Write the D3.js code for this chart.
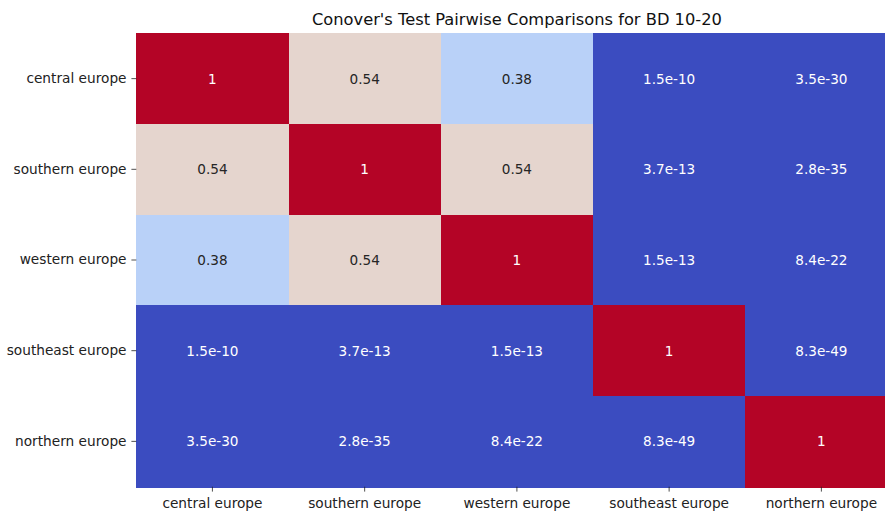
<!DOCTYPE html>
<html>
<head>
<meta charset="utf-8">
<script src="https://cdn.jsdelivr.net/npm/d3@7"></script>
<style>
  body { margin: 0; background: #fff; }
  svg { display: block; font-family: "DejaVu Sans", sans-serif; }
  .tick text { fill: #222; font-size: 13.7px; }
  .tick line { stroke: #222; stroke-width: 0.8; }
</style>
</head>
<body>
<svg width="885" height="511"></svg>
<script>
// groups (rows and columns are in the same order)
var groups = ["central europe", "southern europe", "western europe", "southeast europe", "northern europe"];

// p-values, numeric, one row per group
var pvalues = [
  [1, 0.54, 0.38, 1.5e-10, 3.5e-30],
  [0.54, 1, 0.54, 3.7e-13, 2.8e-35],
  [0.38, 0.54, 1, 1.5e-13, 8.4e-22],
  [1.5e-10, 3.7e-13, 1.5e-13, 1, 8.3e-49],
  [3.5e-30, 2.8e-35, 8.4e-22, 8.3e-49, 1]
];

// labels as printed in the cells
var labels = [
  ["1", "0.54", "0.38", "1.5e-10", "3.5e-30"],
  ["0.54", "1", "0.54", "3.7e-13", "2.8e-35"],
  ["0.38", "0.54", "1", "1.5e-13", "8.4e-22"],
  ["1.5e-10", "3.7e-13", "1.5e-13", "1", "8.3e-49"],
  ["3.5e-30", "2.8e-35", "8.4e-22", "8.3e-49", "1"]
];

var title = "Conover's Test Pairwise Comparisons for BD 10-20";

var svg = d3.select("svg"),
    margin = { left: 136.3, top: 33.3 },
    width = 761.2,
    height = 453.4;

var x = d3.scaleBand().domain(groups).range([0, width]),
    y = d3.scaleBand().domain(groups).range([0, height]);

// coolwarm approximation
var color = d3.scaleLinear()
    .domain([0, 0.125, 0.25, 0.375, 0.5, 0.625, 0.75, 0.875, 1])
    .range(["#3b4cc0", "#6282ea", "#8db0fe", "#b8d0f9", "#dddddd",
            "#f5c4ad", "#f49a7b", "#de604d", "#b40426"])
    .interpolate(d3.interpolateRgb);

var g = svg.append("g")
    .attr("transform", "translate(" + margin.left + "," + margin.top + ")");

// flatten to cells
var cells = [];
pvalues.forEach(function (row, i) {
    row.forEach(function (v, j) {
        cells.push({ r: groups[i], c: groups[j], v: v, label: labels[i][j] });
    });
});

g.selectAll("rect.cell")
    .data(cells)
    .enter().append("rect")
    .attr("class", "cell")
    .attr("x", function (d) { return x(d.c); })
    .attr("y", function (d) { return y(d.r); })
    .attr("width", x.bandwidth() + 1)
    .attr("height", y.bandwidth() + 1)
    .attr("shape-rendering", "crispEdges")
    .attr("fill", function (d) { return color(d.v); });

g.selectAll("text.annot")
    .data(cells)
    .enter().append("text")
    .attr("class", "annot")
    .attr("x", function (d) { return x(d.c) + x.bandwidth() / 2; })
    .attr("y", function (d) { return y(d.r) + y.bandwidth() / 2; })
    .attr("text-anchor", "middle")
    .attr("dominant-baseline", "central")
    .attr("font-size", "13.6px")
    .attr("fill", function (d) {
        var c = d3.rgb(color(d.v));
        var lum = 0.2126 * c.r + 0.7152 * c.g + 0.0722 * c.b;
        return lum > 104 ? "#262626" : "#ffffff";
    })
    .text(function (d) { return d.label; });

// axes
var yAxis = g.append("g")
    .call(d3.axisLeft(y).tickSize(4.9).tickPadding(4.9));
yAxis.select(".domain").remove();

var xAxis = g.append("g")
    .attr("transform", "translate(0," + height + ")")
    .call(d3.axisBottom(x).tickSize(4.9).tickPadding(6.5));
xAxis.select(".domain").remove();

svg.selectAll(".tick text").attr("font-family", "DejaVu Sans, sans-serif");

svg.append("text")
    .attr("x", margin.left + width / 2)
    .attr("y", 25)
    .attr("text-anchor", "middle")
    .attr("font-size", "16.3px")
    .attr("fill", "#111")
    .text(title);
</script>
</body>
</html>
